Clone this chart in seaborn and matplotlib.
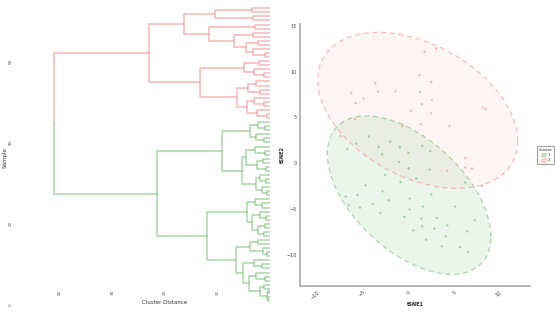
import numpy as np
import pandas as pd
import seaborn as sns
import matplotlib
matplotlib.use("Agg")
import matplotlib.pyplot as plt
from matplotlib.patches import Patch

# ---- dendrogram data: nested (height, upper, lower), L = leaf ----
L = 0
pink_tree = (23.0,
             (16.4,
              (10.5, (3.4, L, L), (3.2, L, L)),
              (11.6, (2.9, L, L),
               (6.9, (3.2, L, L), (4.6, (2.3, L, L), (3.2, L, (1.0, L, L)))))),
             (13.3,
              (4.9, (2.0, L, L), (3.0, L, (1.1, L, L))),
              (6.3, (4.2, (2.6, L, L), (1.8, L, L)),
               (4.4, (3.0, L, (1.2, L, L)), (2.4, L, (0.6, L, L))))))

green_tree = (21.5,
              (9.1,
               (3.8, (2.3, L, (0.9, L, L)), (2.6, L, (1.1, L, L))),
               (5.3, (4.6, (2.8, L, (1.0, L, L)), (2.4, (1.3, L, L), (0.7, L, L))),
                (2.7, (1.9, L, (0.8, L, L)), (1.6, L, (0.5, L, L))))),
              (12.0,
               (4.4, (2.8, L, (1.5, L, L)),
                (3.5, (1.8, L, (0.7, L, L)), (2.2, (0.9, L, L), (1.2, L, L)))),
               (6.5, (3.8, (2.2, L, L), (1.4, L, (0.6, L, L))),
                (5.2, (3.0, L, (1.5, L, L)),
                 (4.0, (2.6, L, (1.0, L, L)),
                  (1.8, (1.1, L, L), (0.6, L, (0.4, L, L))))))))
root_height = 41.1
n_samples = 73
dist_ticks = [40, 30, 20, 10, 0]
sample_ticks = [0, 20, 40, 60]

# ---- tSNE data ----
tsne1_c1 = [-4.66, -6.05, -2.33, -3.61, -1.28, 1.17, -7.03, -3.21, -0.33, 2.04,
            -1.38, -0.33, 1.97, -2.88, 0.51, -1.20, 5.87, -5.03, -3.17, -7.21,
            -5.90, 2.15, -2.51, -0.22, -6.85, -4.23, -5.65, 1.24, 4.74, -3.42,
            -0.22, -0.80, 1.09, 2.77, 6.92, 1.17, 3.90, 2.48, 0.18, 6.08,
            3.72, 1.60, 3.31, 5.28, 6.19]
tsne2_c1 = [2.91, 2.15, 2.37, 1.78, 1.75, 1.89, 1.53, 0.95, 1.13, 1.35,
            0.15, -0.55, -0.69, -1.28, -1.68, -2.04, -2.11, -2.40, -3.06, -3.64,
            -3.46, -3.42, -4.04, -3.86, -4.59, -4.44, -4.84, -4.74, -4.74, -5.43,
            -5.03, -5.87, -6.05, -5.97, -6.23, -6.89, -6.78, -7.14, -7.32, -7.43,
            -7.98, -8.34, -9.07, -9.14, -9.69]
tsne1_c2 = [1.42, 2.70, 0.87, 2.15, -3.97, -6.59, -3.68, -1.75, 0.95, -5.25,
            -6.12, 2.22, 1.13, 7.80, 8.09, -0.04, 2.15, -6.23, 0.98, 4.15,
            -1.02, -7.76, 5.87, 5.87, 6.59, 3.90, 7.72]
tsne2_c2 = [12.17, 12.53, 9.62, 8.89, 8.71, 7.65, 7.83, 7.83, 7.80, 7.07,
            6.56, 6.92, 6.45, 6.08, 5.90, 5.72, 5.46, 4.81, 4.26, 4.08,
            4.08, 2.99, 0.55, -0.47, -0.58, -0.84, -2.48]
# F quantiles (0.95, 2, n-1) used for the 95% ellipse
f_quantile = {"1": 3.209, "2": 3.369}

green = "#4DAF4A"
pink = "#F8766D"

df = pd.DataFrame({
    "tSNE1": tsne1_c1 + tsne1_c2,
    "tSNE2": tsne2_c1 + tsne2_c2,
    "cluster": ["1"] * len(tsne1_c1) + ["2"] * len(tsne1_c2),
})


def cov_trob(X, nu=5, iters=100):
    # multivariate t robust covariance, like MASS::cov.trob
    n, p = X.shape
    wt = np.ones(n)
    loc = X.mean(axis=0)
    cov = np.cov(X.T)
    for _ in range(iters):
        d = X - loc
        Q = np.einsum("ij,jk,ik->i", d, np.linalg.inv(cov), d)
        wt = (nu + p) / (nu + Q)
        loc_new = (wt[:, None] * X).sum(axis=0) / wt.sum()
        d = np.sqrt(wt)[:, None] * (X - loc_new)
        cov = d.T @ d / n
        if np.allclose(loc_new, loc, atol=1e-8):
            loc = loc_new
            break
        loc = loc_new
    return loc, cov


sns.set_theme(style="white")
plt.rcParams["font.family"] = ["DejaVu Sans"]

fig = plt.figure(figsize=(5.55, 3.35), dpi=100)

# ---------------- dendrogram ----------------
ax1 = fig.add_axes([14 / 555, 23 / 335, 258 / 555, 309 / 335])
pos = [n_samples]


def draw(node, color):
    if node == L:
        y = pos[0]
        pos[0] -= 1
        return y, 0.0
    h, a, b = node
    ya, ha = draw(a, color)
    yb, hb = draw(b, color)
    ax1.plot([ha, h, h, hb], [ya, ya, yb, yb], color=color, lw=1.2,
             alpha=0.45, solid_capstyle="butt")
    return (ya + yb) / 2, h


yp, hp = draw(pink_tree, "#F26B6B")
yg, hg = draw(green_tree, green)
ymid = (yp + yg) / 2
ax1.plot([hp, root_height, root_height], [yp, yp, ymid], color="#F26B6B",
         lw=1.2, alpha=0.45)
ax1.plot([hg, root_height, root_height], [yg, yg, ymid], color=green,
         lw=1.2, alpha=0.45)

ax1.set_xlim(48.8, -0.4)
ax1.set_ylim(-1.7, 74.3)
ax1.set_xticks(dist_ticks)
ax1.set_xticklabels([str(t) for t in dist_ticks], rotation=90)
ax1.set_yticks(sample_ticks)
ax1.set_yticklabels([str(t) for t in sample_ticks], rotation=90, va="center")
ax1.tick_params(axis="x", labelsize=3, colors="#555555", pad=-16, length=0)
ax1.tick_params(axis="y", labelsize=3, colors="#555555", pad=1, length=0)
for s in ax1.spines.values():
    s.set_visible(False)
ax1.set_xlabel("Cluster Distance", fontsize=4, color="#333333")
ax1.xaxis.set_label_coords(0.585, 0.04)
ax1.set_ylabel("Sample", fontsize=4, color="#333333", labelpad=1)

# ---------------- tSNE scatter ----------------
ax2 = fig.add_axes([300 / 555, 49 / 335, 230 / 555, 262 / 335])
palette = {"1": green, "2": pink}
fill_alpha = {"1": 0.11, "2": 0.07}

t = np.linspace(0, 2 * np.pi, 200)
circle = np.column_stack([np.cos(t), np.sin(t)])
for cl in ["2", "1"]:
    sub = df[df["cluster"] == cl]
    loc, cov = cov_trob(sub[["tSNE1", "tSNE2"]].to_numpy())
    r = np.sqrt(2 * f_quantile[cl])
    chol = np.linalg.cholesky(cov).T
    pts = loc + r * circle @ chol
    ax2.fill(pts[:, 0], pts[:, 1], color=palette[cl], alpha=fill_alpha[cl],
             lw=0, zorder=1)
    ax2.plot(pts[:, 0], pts[:, 1], color=palette[cl], alpha=0.45, lw=0.9,
             ls=(0, (4, 3)), zorder=2)

sns.scatterplot(data=df, x="tSNE1", y="tSNE2", hue="cluster", palette=palette,
                s=3, alpha=0.5, linewidth=0, legend=False, ax=ax2, zorder=3)

ax2.set_xlim(-12.2, 12.95)
ax2.set_ylim(-13.4, 15.2)
ax2.set_xticks([-10, -5, 0, 5, 10])
ax2.set_yticks([-10, -5, 0, 5, 10, 15])
ax2.tick_params(axis="both", labelsize=3.5, colors="#444444", length=1.5,
                width=0.4, pad=1)
for lab in ax2.get_xticklabels():
    lab.set_rotation(45)
    lab.set_ha("right")
for s in ["top", "right"]:
    ax2.spines[s].set_visible(False)
for s in ["left", "bottom"]:
    ax2.spines[s].set_color("#a8a8a8")
    ax2.spines[s].set_linewidth(1.2)
ax2.set_xlabel("tSNE1", fontsize=3.5, fontweight="bold", labelpad=1)
ax2.set_ylabel("tSNE2", fontsize=3.5, fontweight="bold", labelpad=1)

handles = [Patch(facecolor=green, edgecolor=green, alpha=0.3, ls="--"),
           Patch(facecolor=pink, edgecolor=pink, alpha=0.3, ls="--")]
leg = fig.legend(handles, ["1", "2"], title="cluster", loc="center left",
                 bbox_to_anchor=(535 / 555, 1 - 155 / 335), fontsize=3,
                 title_fontsize=3, frameon=True, handlelength=1.2,
                 handleheight=1.0, borderpad=0.4, labelspacing=0.2,
                 handletextpad=0.4, fancybox=False)
leg.get_frame().set_edgecolor("#888888")
leg.get_frame().set_linewidth(0.8)

fig.savefig("out.png", dpi=100)
